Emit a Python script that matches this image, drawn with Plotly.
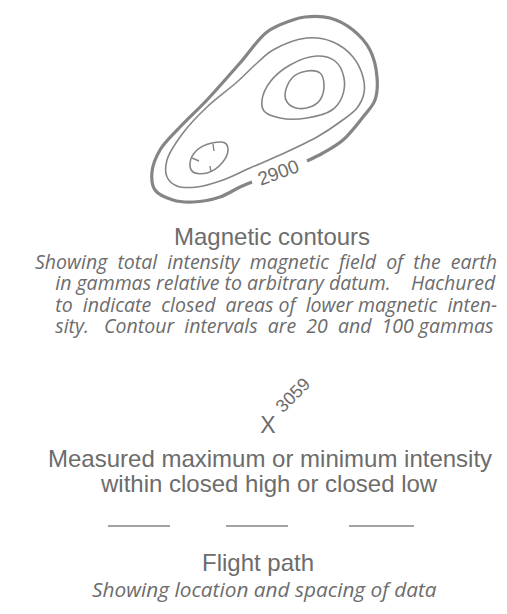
import plotly.graph_objects as go

# ---- data (pixel-space drawing coordinates) ----
outer_x = [307, 323, 343, 363, 375, 377, 370, 353, 330, 305, 290, 267, 240, 207, 180, 160, 152, 155, 173, 193, 220, 240, 252]
outer_y = [161, 153, 140, 117, 100, 77, 50, 30, 18, 17, 21, 32, 63, 100, 127, 150, 172, 190, 200, 202, 197, 187, 182]

second_x = [177, 167, 167, 183, 207, 237, 256, 273, 307, 333, 353, 363, 364, 357, 340, 317, 280, 250, 223, 197, 177]
second_y = [186, 177, 160, 133, 107, 82, 64, 50, 38, 42, 57, 77, 93, 108, 122, 137, 155, 168, 180, 187, 186]

third_x = [262, 270, 290, 317, 335, 344, 342, 332, 307, 280, 264, 262]
third_y = [100, 82, 65, 56, 61, 78, 97, 110, 118, 118, 111, 100]

inner_x = [285, 292, 307, 320, 324, 320, 310, 296, 287, 285]
inner_y = [94, 78, 71, 73, 85, 100, 107, 108, 102, 94]

low_x = [190, 197, 212, 225, 228, 222, 207, 193, 190]
low_y = [163, 150, 143, 143, 150, 163, 173, 172, 163]
hachure_x = [[213, 214], [192, 199], [211, 210]]
hachure_y = [[144, 151], [158, 161], [172, 166]]

contour_label = "2900"
label_pos = (278, 172)

measured_value = "3059"
measured_mark_pos = (268, 427)
measured_label_pos = (293, 395)

flight_x = [[108, 170], [226, 288], [349, 414]]
flight_y = [526, 526, 526]

title_contours = "Magnetic contours"
desc_contours = [
    "Showing  total  intensity  magnetic  field  of  the  earth",
    "    in gammas relative to arbitrary datum.    Hachured",
    "    to  indicate  closed  areas of  lower magnetic  inten-",
    "    sity.   Contour  intervals  are  20  and  100 gammas",
]
desc_block_pos = (33, 293)
title_measured = ["Measured maximum or minimum intensity", "within closed high or closed low"]
title_flight = "Flight path"
desc_flight = "Showing location and spacing of data"

TXT = "#6c6c6c"
LINE = "#858585"
SANS = "Liberation Sans, Arial, sans-serif"
ITAL = "Open Sans, Noto Sans, sans-serif"
ITAL_SIZE = 19.5
PAGE_OFFSET = 8  # default page margin of the html body

fig = go.Figure()

def add_line(xs, ys, width, color=LINE, shape="spline"):
    fig.add_trace(go.Scatter(x=xs, y=ys, mode="lines",
                             line=dict(color=color, width=width, shape=shape, smoothing=1.0),
                             hoverinfo="skip", showlegend=False))

add_line(outer_x, outer_y, 3.2)
add_line(second_x, second_y, 1.6)
add_line(third_x, third_y, 1.6)
add_line(inner_x, inner_y, 1.6)
add_line(low_x, low_y, 1.6)
for hx, hy in zip(hachure_x, hachure_y):
    add_line(hx, hy, 1.4, shape="linear")
for fx, fy in zip(flight_x, flight_y):
    add_line(fx, [fy, fy], 1.5, shape="linear")

# measured point marker
fig.add_trace(go.Scatter(x=[measured_mark_pos[0]], y=[measured_mark_pos[1]], mode="text", text=["X"],
                         textfont=dict(family=SANS, size=23, color=TXT),
                         hoverinfo="skip", showlegend=False))

ann = []
ann.append(dict(x=label_pos[0], y=label_pos[1], text=contour_label, textangle=-20,
                font=dict(family=SANS, size=19, color=TXT)))
ann.append(dict(x=measured_label_pos[0], y=measured_label_pos[1], text=measured_value, textangle=-45,
                font=dict(family=SANS, size=18, color=TXT)))
ann.append(dict(x=272, y=236, text=title_contours, font=dict(family=SANS, size=24, color=TXT)))
block = "<br>".join(f'<span style="font-size:{ITAL_SIZE}px">{t}</span>' for t in desc_contours)
ann.append(dict(x=desc_block_pos[0], y=desc_block_pos[1], text=block, xanchor="left", align="left",
                font=dict(family=ITAL, size=16.5, color=TXT, style="italic")))
ann.append(dict(x=270, y=458, text=title_measured[0], font=dict(family=SANS, size=24, color=TXT)))
ann.append(dict(x=269, y=483, text=title_measured[1], font=dict(family=SANS, size=24, color=TXT)))
ann.append(dict(x=258, y=562, text=title_flight, font=dict(family=SANS, size=24, color=TXT)))
ann.append(dict(x=264, y=589, text=desc_flight,
                font=dict(family=ITAL, size=20.8, color=TXT, style="italic")))
for a in ann:
    a.setdefault("xanchor", "center")
    a.update(xref="x", yref="y", showarrow=False, yanchor="middle")

fig.update_layout(
    width=507 - PAGE_OFFSET, height=614 - PAGE_OFFSET, margin=dict(l=0, r=0, t=0, b=0),
    paper_bgcolor="white", plot_bgcolor="white",
    xaxis=dict(range=[PAGE_OFFSET, 507], visible=False, fixedrange=True),
    yaxis=dict(range=[614, PAGE_OFFSET], visible=False, fixedrange=True),
    annotations=ann, showlegend=False,
)
fig.write_html("out.html")
